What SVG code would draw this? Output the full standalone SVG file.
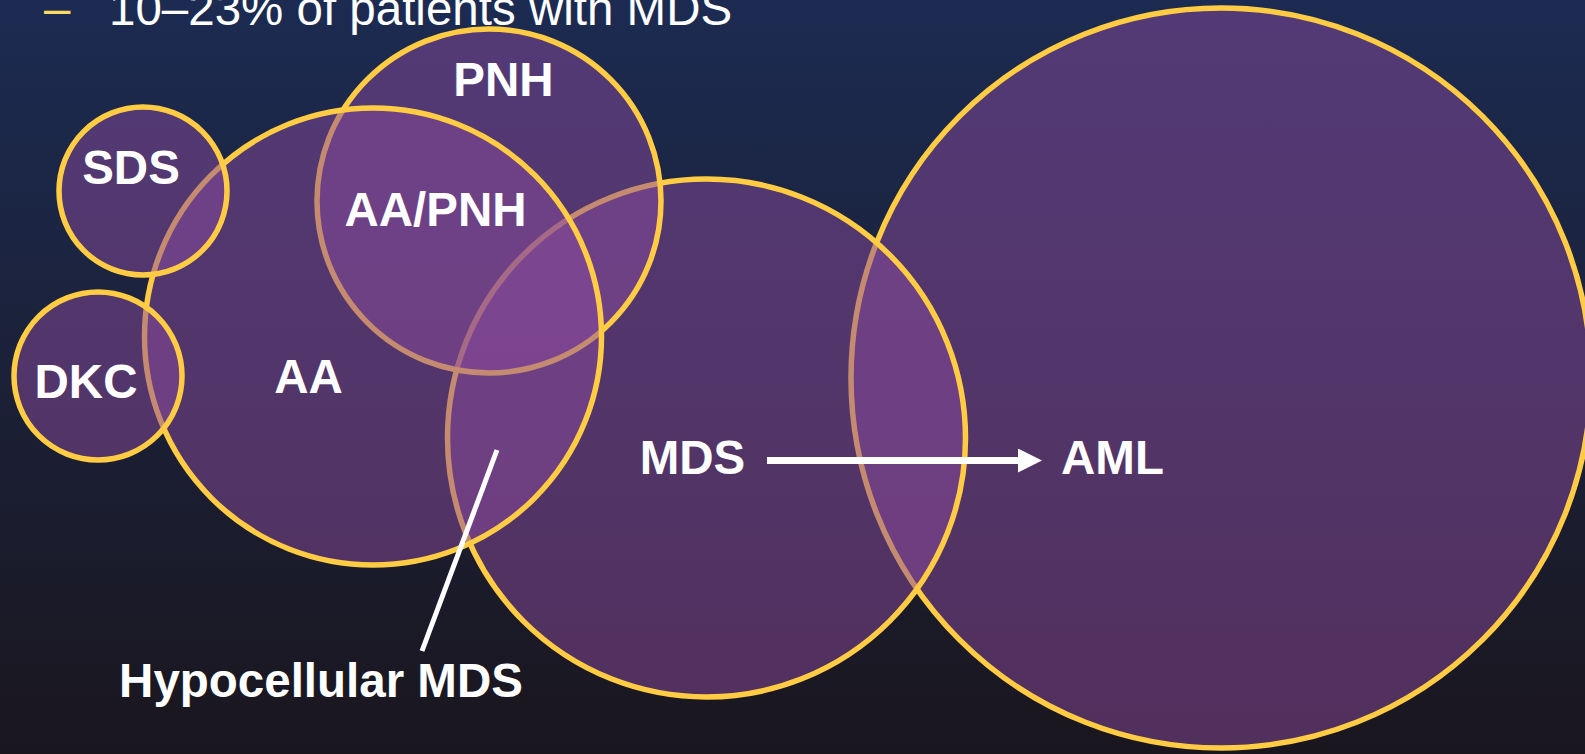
<svg xmlns="http://www.w3.org/2000/svg" width="1585" height="754" viewBox="0 0 1585 754">
<defs>
<linearGradient id="bg" x1="0" y1="0" x2="0" y2="1">
<stop offset="0" stop-color="#1c2b52"/>
<stop offset="1" stop-color="#1a161e"/>
</linearGradient>
<marker id="ah" markerWidth="24" markerHeight="24" viewBox="0 0 24 24" refX="0" refY="12" orient="auto" markerUnits="userSpaceOnUse">
<path d="M0,0 L24,12 L0,24 Z" fill="#ffffff"/>
</marker>
</defs>
<style>
.c{fill:#8a4a9c;fill-opacity:0.5;stroke:#ffcc44;stroke-width:5.5}
.l{font-family:"Liberation Sans",Arial,sans-serif;font-weight:bold;font-size:47.5px;fill:#ffffff;text-anchor:middle}
.t{font-family:"Liberation Sans",Arial,sans-serif;font-size:47.5px;fill:#ffffff}
</style>
<rect width="1585" height="754" fill="url(#bg)"/>
<text x="44" y="25" class="t" style="fill:#ffd966">–</text>
<text x="109" y="25" class="t">10–23% of patients with MDS</text>
<g id="aml"><circle class="c" cx="1221" cy="378" r="370"/></g>
<g id="mds"><circle class="c" cx="706.5" cy="438" r="259"/></g>
<g id="pnh"><circle class="c" cx="489" cy="201" r="172"/></g>
<g id="aa"><circle class="c" cx="373" cy="336.5" r="228.5"/></g>
<g id="sds"><circle class="c" cx="143" cy="191" r="84"/></g>
<g id="dkc"><circle class="c" cx="98" cy="376" r="84"/></g>
<g id="connectors">
<line x1="767" y1="460.5" x2="1018" y2="460.5" stroke="#ffffff" stroke-width="7" marker-end="url(#ah)"/>
<line x1="497" y1="450" x2="422" y2="651" stroke="#ffffff" stroke-width="5"/>
</g>
<g id="labels">
<text class="l" x="503.5" y="96">PNH</text>
<text class="l" x="131" y="184">SDS</text>
<text class="l" x="435.5" y="226">AA/PNH</text>
<text class="l" x="86" y="398">DKC</text>
<text class="l" x="308.5" y="393">AA</text>
<text class="l" x="692.5" y="474">MDS</text>
<text class="l" x="1112.5" y="474">AML</text>
<text class="l" x="321" y="697">Hypocellular MDS</text>
</g>
</svg>
